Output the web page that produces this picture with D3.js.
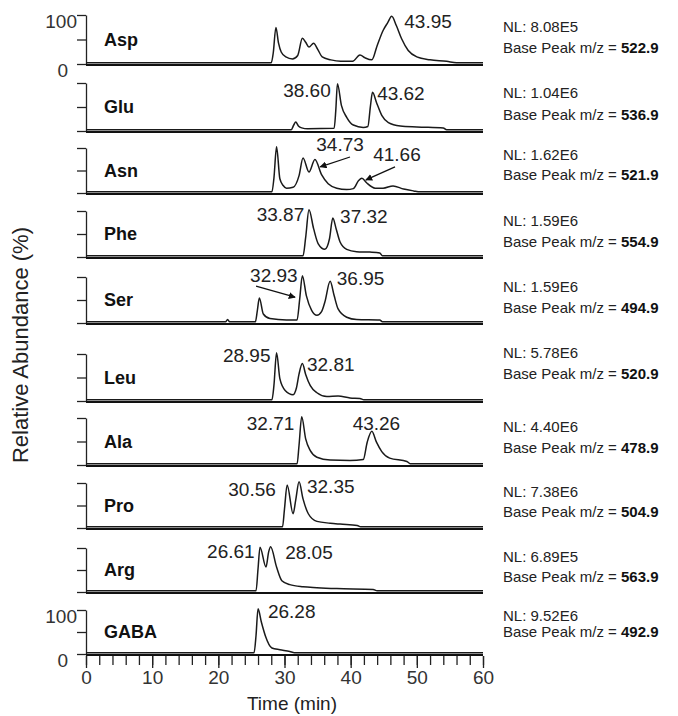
<!DOCTYPE html>
<html>
<head>
<meta charset="utf-8">
<script src="https://cdn.jsdelivr.net/npm/d3@7"></script>
<style>
  body { margin: 0; background: #fff; }
  text { font-family: Arial, "Liberation Sans", sans-serif; }
</style>
</head>
<body>
<div id="chart"></div>
<script>
// chromatogram values: [time (min), relative abundance (%)]
let compounds = ["Asp", "Glu", "Asn", "Phe", "Ser", "Leu", "Ala", "Pro", "Arg", "GABA"];
let nlValues = ["8.08E5", "1.04E6", "1.62E6", "1.59E6", "1.59E6", "5.78E6", "4.40E6", "7.38E6", "6.89E5", "9.52E6"];
let baseMz = ["522.9", "536.9", "521.9", "554.9", "494.9", "520.9", "478.9", "504.9", "563.9", "492.9"];

let aspTrace = [[0,0],[28.0,0],[28.3,20],[28.7,72],[29.1,40],[29.5,22],[30.2,12],[31.2,8],[32.0,15],[32.7,50],[33.2,42],[33.7,32],[34.4,40],[35.0,28],[35.7,12],[37.0,6],[38.5,3],[40.3,3],[41.4,16],[42.2,10],[43.2,6],[44.0,35],[44.9,66],[45.6,82],[46.2,95],[46.9,76],[47.7,49],[48.7,25],[50.0,12],[52.0,6],[54.5,3],[56,0],[60,0]];
let gluTrace = [[0,0],[31.0,0],[31.4,10],[31.7,16],[32.1,8],[32.6,4],[33.5,2],[37.5,3],[37.75,40],[38.0,96],[38.6,51],[39.4,26],[40.4,10],[41.9,5],[42.6,7],[43.0,51],[43.3,78],[43.9,57],[44.7,30],[45.7,15],[47.5,8],[50.0,6],[54.0,4],[54.5,0],[60,0]];
let asnTrace = [[0,0],[28.1,0],[28.4,30],[28.8,100],[29.3,29],[29.8,14],[30.3,8],[31.3,10],[32.2,36],[32.8,75],[33.7,44],[34.6,72],[35.6,38],[36.6,18],[37.9,8],[39.4,5],[40.4,7],[41.2,25],[41.7,30],[42.4,20],[43.7,8],[44.9,8],[46.4,13],[48.0,6],[49.5,2],[50.5,0],[60,0]];
let pheTrace = [[0,0],[32.8,0],[33.2,40],[33.7,100],[34.4,59],[35.1,26],[36.1,14],[36.8,37],[37.3,82],[37.8,59],[38.4,30],[39.4,14],[40.9,9],[42.9,8],[44.4,6],[44.8,0],[60,0]];
let serTrace = [[0,0],[21.1,0],[21.4,5],[21.7,0],[25.6,0],[25.9,25],[26.2,52],[26.8,17],[27.8,7],[30.3,4],[31.9,4],[32.3,50],[32.7,100],[33.3,57],[34.1,25],[34.9,14],[35.6,22],[36.1,43],[36.9,88],[37.5,57],[38.1,28],[39.4,10],[40.9,5],[44.4,4],[44.8,0],[60,0]];
let leuTrace = [[0,0],[28.1,0],[28.4,30],[28.8,100],[29.3,45],[30.1,20],[31.3,11],[31.8,25],[32.2,55],[32.7,77],[33.2,54],[33.9,30],[34.9,15],[36.4,7],[38.1,8],[39.9,4],[41.4,3],[42,0],[60,0]];
let alaTrace = [[0,0],[31.9,0],[32.2,40],[32.6,100],[33.2,53],[33.9,28],[34.9,14],[36.9,8],[39.9,7],[41.9,9],[42.5,46],[43.2,69],[43.9,46],[44.7,26],[45.9,12],[48.5,5],[49,0],[60,0]];
let proTrace = [[0,0],[29.7,0],[30.0,40],[30.4,93],[31.3,29],[31.7,60],[32.2,100],[32.8,62],[33.6,29],[34.9,12],[36.9,8],[38.4,6],[41,3],[41.5,0],[60,0]];
let argTrace = [[0,0],[25.7,0],[26.0,50],[26.3,99],[27.2,54],[27.6,88],[27.9,100],[28.8,54],[29.6,23],[30.8,14],[32.8,9],[34.9,7],[37.9,5],[43.4,3],[44,0],[60,0]];
let gabaTrace = [[0,0],[25.4,0],[25.7,40],[26.0,100],[26.5,70],[27.1,39],[28.1,11],[29.3,7],[30.8,3],[31.5,0],[60,0]];

let traces = [aspTrace, gluTrace, asnTrace, pheTrace, serTrace, leuTrace, alaTrace, proTrace, argTrace, gabaTrace];

// retention-time labels, anchored in data units [time, %] of their panel
let peakLabels = [
  [{text: "43.95", t: 48.1, v: 73}],
  [{text: "38.60", t: 29.8, v: 71}, {text: "43.62", t: 44.0, v: 65}],
  [{text: "34.73", t: 34.8, v: 93}, {text: "41.66", t: 43.4, v: 71}],
  [{text: "33.87", t: 25.8, v: 78}, {text: "37.32", t: 38.4, v: 74}],
  [{text: "32.93", t: 24.8, v: 89}, {text: "36.95", t: 37.9, v: 83}],
  [{text: "28.95", t: 20.7, v: 83}, {text: "32.81", t: 33.4, v: 64}],
  [{text: "32.71", t: 24.3, v: 74}, {text: "43.26", t: 40.3, v: 74}],
  [{text: "30.56", t: 21.5, v: 71}, {text: "32.35", t: 33.4, v: 78}],
  [{text: "26.61", t: 18.3, v: 77}, {text: "28.05", t: 30.1, v: 75}],
  [{text: "26.28", t: 27.5, v: 82}]
];

let arrows = [
  {panel: 2, from: [39.9, 80], to: [35.4, 58]},
  {panel: 2, from: [46.7, 58], to: [42.3, 29]},
  {panel: 4, from: [25.7, 80], to: [31.6, 56]}
];

let timeTicks = [0, 10, 20, 30, 40, 50, 60];

////////////////////////////////////////////////////////////////////////
// layout

let width = 678;
let height = 716;
let panelTops = [15, 83, 148, 211, 277, 354, 418, 483, 548, 610];
let panelBottoms = [64, 131, 193, 257, 323, 401, 465, 528, 592, 654];
let nlY = [32, 98, 160, 226, 292, 358, 432, 497, 562, 621];
let bpY = [53, 120, 180, 247, 313, 379, 453, 517, 582, 637];

let svg = d3.select("#chart")
  .append("svg")
  .attr("width", width).attr("height", height);

let xScale = d3.scaleLinear()
  .domain([0, 60])
  .range([86, 483]);

let marker = svg.append("defs").append("marker")
  .attr("id", "arrowhead")
  .attr("viewBox", "0 0 10 10")
  .attr("refX", 9).attr("refY", 5)
  .attr("markerWidth", 7).attr("markerHeight", 7)
  .attr("markerUnits", "userSpaceOnUse")
  .attr("orient", "auto");
marker.append("path")
  .attr("d", "M0,0L10,5L0,10z")
  .attr("fill", "#111");

let yScales = [];

compounds.forEach(function(name, i) {
  let yScale = d3.scaleLinear()
    .domain([0, 100])
    .range([panelBottoms[i], panelTops[i]]);
  yScales.push(yScale);

  let g = svg.append("g").attr("class", "panel");

  // y axis: three ticks, labels only on the first and last panel
  let yAxis = g.append("g")
    .attr("transform", "translate(86,0)")
    .call(d3.axisLeft(yScale).tickValues([0, 50, 100]).tickSize(9).tickSizeOuter(0).tickFormat(""));
  yAxis.selectAll("line, path").attr("stroke", "#222").attr("stroke-width", 1.3);

  if (i === 0 || i === compounds.length - 1) {
    g.append("text").text("100")
      .attr("x", 77).attr("y", yScale(100) + 13)
      .attr("text-anchor", "end")
      .attr("font-size", 19).attr("fill", "#333");
    g.append("text").text("0")
      .attr("x", 68).attr("y", yScale(0) + 13)
      .attr("text-anchor", "end")
      .attr("font-size", 19).attr("fill", "#333");
  }

  // baseline of each panel
  g.append("line")
    .attr("x1", xScale(0)).attr("x2", xScale(60))
    .attr("y1", yScale(0) + 1).attr("y2", yScale(0) + 1)
    .attr("stroke", "#111").attr("stroke-width", 1.8);

  // the trace
  let line = d3.line()
    .x(d => xScale(d[0]))
    .y(d => yScale(d[1]))
    .curve(d3.curveMonotoneX);

  g.append("path")
    .datum(traces[i])
    .attr("d", line)
    .attr("transform", "translate(0,-1.2)")
    .attr("fill", "none")
    .attr("stroke", "#1a1a1a")
    .attr("stroke-width", 1.5)
    .attr("stroke-linejoin", "round");

  // compound name
  g.append("text").text(name)
    .attr("x", 104).attr("y", yScale(50) + 6)
    .attr("font-size", 18).attr("font-weight", "bold")
    .attr("fill", "#111");

  // peak labels
  g.selectAll("text.peak")
    .data(peakLabels[i]).enter()
    .append("text")
    .attr("class", "peak")
    .attr("x", d => xScale(d.t))
    .attr("y", d => yScale(d.v))
    .attr("font-size", 19).attr("fill", "#222")
    .text(d => d.text);

  // NL and base peak
  g.append("text").text("NL: " + nlValues[i])
    .attr("x", 503).attr("y", nlY[i])
    .attr("font-size", 15).attr("fill", "#222");
  let bp = g.append("text")
    .attr("x", 503).attr("y", bpY[i])
    .attr("font-size", 15).attr("fill", "#222");
  bp.append("tspan").text("Base Peak m/z = ");
  bp.append("tspan").text(baseMz[i]).attr("font-weight", "bold").attr("fill", "#111");
});

// arrows
svg.selectAll("line.arrow")
  .data(arrows).enter()
  .append("line")
  .attr("class", "arrow")
  .attr("x1", d => xScale(d.from[0]))
  .attr("y1", d => yScales[d.panel](d.from[1]))
  .attr("x2", d => xScale(d.to[0]))
  .attr("y2", d => yScales[d.panel](d.to[1]))
  .attr("stroke", "#111").attr("stroke-width", 1.3)
  .attr("marker-end", "url(#arrowhead)");

// time axis under the last panel
let axisY = panelBottoms[panelBottoms.length - 1] + 2;
let minor = svg.append("g")
  .attr("transform", "translate(0," + axisY + ")")
  .call(d3.axisBottom(xScale).tickValues(d3.range(0, 61, 2)).tickSize(9).tickSizeOuter(0).tickFormat(""));
minor.select(".domain").remove();
minor.selectAll("line").attr("stroke", "#222").attr("stroke-width", 1.3);

let major = svg.append("g")
  .attr("transform", "translate(0," + axisY + ")")
  .call(d3.axisBottom(xScale).tickValues(timeTicks).tickSize(12).tickSizeOuter(0).tickPadding(3));
major.select(".domain").remove();
major.selectAll("line").attr("stroke", "#222").attr("stroke-width", 1.3);
major.selectAll("text")
  .attr("font-family", "Arial, 'Liberation Sans', sans-serif")
  .attr("font-size", 19).attr("fill", "#333");

svg.append("text").text("Time (min)")
  .attr("x", 292).attr("y", 710)
  .attr("text-anchor", "middle")
  .attr("font-size", 19).attr("fill", "#222");

svg.append("text").text("Relative Abundance (%)")
  .attr("transform", "translate(28,345)rotate(-90)")
  .attr("text-anchor", "middle")
  .attr("font-size", 22).attr("fill", "#222");
</script>
</body>
</html>
